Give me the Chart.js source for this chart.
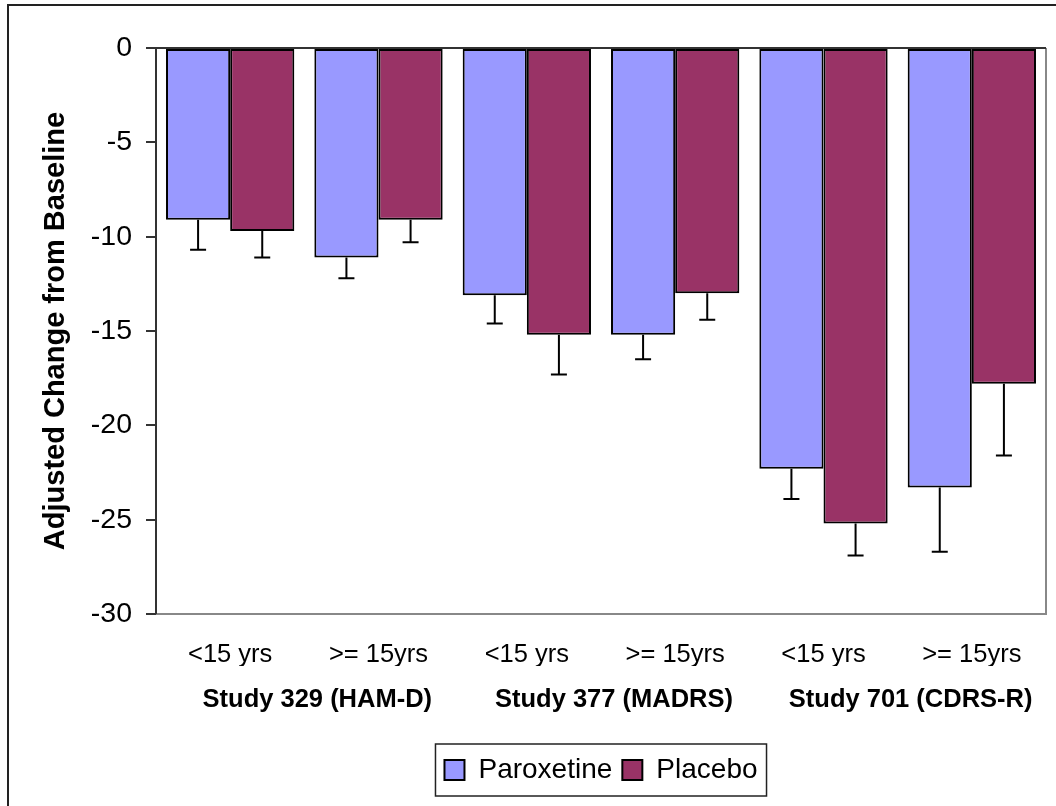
<!DOCTYPE html>
<html>
<head>
<meta charset="utf-8">
<script src="https://cdn.jsdelivr.net/npm/chart.js@4"></script>
<style>
  html, body { margin: 0; padding: 0; background: #fff; }
  #wrap { width: 1056px; height: 806px; position: relative; }
</style>
</head>
<body>
<div id="wrap"><canvas id="c" width="1056" height="806"></canvas></div>
<script>
// Age subgroups within each study, and the studies they belong to
const ageLabels = ['<15 yrs', '>= 15yrs', '<15 yrs', '>= 15yrs', '<15 yrs', '>= 15yrs'];
const studyLabels = ['Study 329 (HAM-D)', 'Study 377 (MADRS)', 'Study 701 (CDRS-R)'];

// Adjusted mean change from baseline
const paroxetine = [-9.1, -11.1, -13.1, -15.2, -22.3, -23.3];
const placebo    = [-9.7, -9.1, -15.2, -13.0, -25.2, -17.8];

// Error bar lengths (drawn below each bar)
const paroxetineErr = [1.6, 1.1, 1.5, 1.3, 1.6, 3.4];
const placeboErr    = [1.4, 1.2, 2.1, 1.4, 1.7, 3.8];

// Y axis range
const yMin = -30, yMax = 0, yStep = 5;

const FONT = '"Liberation Sans", Arial, sans-serif';

const frameAndErrors = {
  id: 'frameAndErrors',
  beforeDraw(chart) {
    const ctx = chart.ctx;
    ctx.save();
    ctx.fillStyle = '#fff';
    ctx.fillRect(0, 0, chart.width, chart.height);
    // outer frame (left and top edges)
    ctx.strokeStyle = '#222';
    ctx.lineWidth = 2;
    ctx.beginPath();
    ctx.moveTo(8, chart.height);
    ctx.lineTo(8, 5);
    ctx.lineTo(chart.width, 5);
    ctx.stroke();
    ctx.restore();
  },
  afterDatasetsDraw(chart) {
    const ctx = chart.ctx;
    const a = chart.chartArea;
    const ys = chart.scales.y;
    ctx.save();
    // plot area border (right and bottom in grey)
    ctx.strokeStyle = '#888';
    ctx.lineWidth = 2;
    ctx.beginPath();
    ctx.moveTo(a.left, a.bottom);
    ctx.lineTo(a.right, a.bottom);
    ctx.lineTo(a.right, a.top);
    ctx.stroke();
    // category axis at zero and value axis
    ctx.strokeStyle = '#333';
    ctx.beginPath();
    ctx.moveTo(a.left, ys.getPixelForValue(0));
    ctx.lineTo(a.right, ys.getPixelForValue(0));
    ctx.moveTo(a.left, a.top);
    ctx.lineTo(a.left, a.bottom);
    ctx.stroke();

    // error bars
    const errs = [paroxetineErr, placeboErr];
    ctx.strokeStyle = '#000';
    ctx.lineWidth = 2;
    chart.data.datasets.forEach((ds, di) => {
      const meta = chart.getDatasetMeta(di);
      meta.data.forEach((bar, i) => {
        const v = ds.data[i];
        const y0 = ys.getPixelForValue(v);
        const y1 = ys.getPixelForValue(v - errs[di][i]);
        ctx.beginPath();
        ctx.moveTo(bar.x, y0);
        ctx.lineTo(bar.x, y1);
        ctx.moveTo(bar.x - 8, y1);
        ctx.lineTo(bar.x + 8, y1);
        ctx.stroke();
      });
    });
    ctx.restore();
  },
  afterDraw(chart) {
    // box around the legend
    const boxes = chart.legend && chart.legend.legendHitBoxes;
    if (!boxes || !boxes.length) return;
    let l = Infinity, r = -Infinity, t = Infinity, b = -Infinity;
    boxes.forEach(h => {
      l = Math.min(l, h.left); r = Math.max(r, h.left + h.width);
      t = Math.min(t, h.top); b = Math.max(b, h.top + h.height);
    });
    const ctx = chart.ctx;
    ctx.save();
    ctx.strokeStyle = '#222';
    ctx.lineWidth = 1.5;
    ctx.strokeRect(l - 9, t - 12, (r - l) + 18, (b - t) + 24);
    ctx.restore();
  }
};

new Chart(document.getElementById('c'), {
  type: 'bar',
  data: {
    labels: ageLabels,
    datasets: [
      { label: 'Paroxetine', data: paroxetine, backgroundColor: '#9999FF',
        borderColor: '#000', borderWidth: 2, borderSkipped: false },
      { label: 'Placebo', data: placebo, backgroundColor: '#993366',
        borderColor: '#000', borderWidth: 2, borderSkipped: false }
    ]
  },
  options: {
    responsive: false,
    animation: false,
    devicePixelRatio: 1,
    categoryPercentage: 0.865,
    barPercentage: 1,
    layout: { padding: { top: 48, right: 10, left: 35, bottom: 12 } },
    plugins: {
      tooltip: { enabled: false },
      legend: {
        position: 'bottom',
        fullSize: false,
        labels: {
          font: { family: FONT, size: 28 },
          color: '#000',
          boxWidth: 20,
          boxHeight: 20,
          padding: 10
        }
      }
    },
    scales: {
      x: {
        type: 'category',
        position: 'bottom',
        offset: true,
        grid: { display: false },
        border: { display: false },
        ticks: { font: { family: FONT, size: 25.5 }, color: '#000', padding: 18, maxRotation: 0, autoSkip: false },
        afterFit(s) { s.height = 52; }
      },
      x2: {
        type: 'category',
        labels: studyLabels,
        position: 'bottom',
        offset: true,
        grid: { display: false },
        border: { display: false },
        ticks: { font: { family: FONT, size: 25.5, weight: 'bold' }, color: '#000', padding: 11,
                 labelOffset: 13, maxRotation: 0, autoSkip: false },
        afterFit(s) { s.height = 80; }
      },
      y: {
        min: yMin,
        max: yMax,
        ticks: { stepSize: yStep, font: { family: FONT, size: 28.5 }, color: '#000', padding: 14 },
        grid: { drawOnChartArea: false, drawTicks: true, tickLength: 10, color: '#333', lineWidth: 2 },
        border: { display: false },
        title: { display: true, text: 'Adjusted Change from Baseline',
                 font: { family: FONT, size: 29, weight: 'bold' }, color: '#000' },
        afterFit(s) { s.width = 121; }
      }
    }
  },
  plugins: [frameAndErrors]
});
</script>
</body>
</html>
